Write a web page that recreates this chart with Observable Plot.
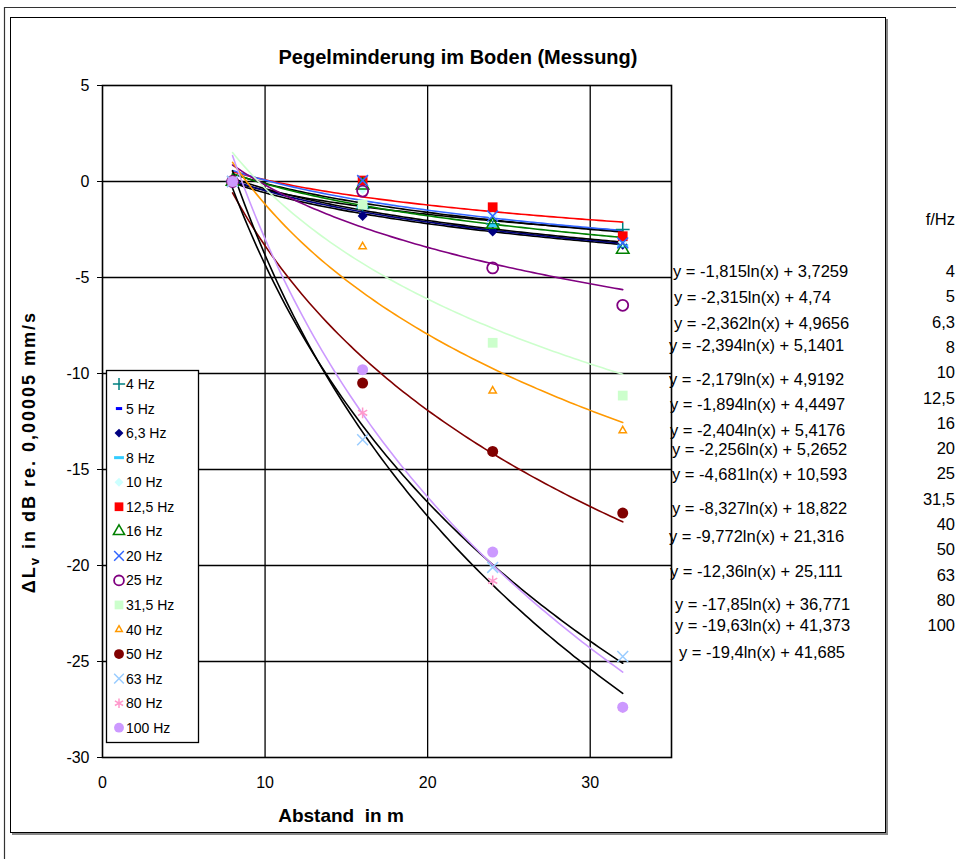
<!DOCTYPE html>
<html><head><meta charset="utf-8">
<script src="https://cdn.jsdelivr.net/npm/d3@7"></script>
<script src="https://cdn.jsdelivr.net/npm/@observablehq/plot@0.6"></script>
<style>
body{margin:0;background:#fff;}
svg{font-family:"Liberation Sans",Arial,sans-serif;}
</style>
</head><body><div id="chart"></div>
<script>
// ---------- data ----------
const freqs = ["4","5","6,3","8","10","12,5","16","20","25","31,5","40","50","63","80","100"];
const distances = [8, 16, 24, 32];
const v4Hz   = [0, -1.4, -2.2, -2.5];
const v5Hz   = [0, -1.75, -2.5, -3.25];
const v6_3Hz = [0, -1.8, -2.6, -3.3];
const v8Hz   = [0, -1.3, -2.3, -3.36];
const v10Hz  = [0, -0.4, -1.8, -3.15];
const v12_5Hz= [0, 0.05, -1.34, -2.85];
const v16Hz  = [0, -0.2, -2.25, -3.55];
const v20Hz  = [0, 0.05, -1.8, -3.2];
const v25Hz  = [0, -0.5, -4.5, -6.45];
const v31_5Hz= [0, -1.2, -8.4, -11.15];
const v40Hz  = [0, -3.39, -10.9, -12.97];
const v50Hz  = [0, -10.5, -14.06, -17.27];
const v63Hz  = [0, -13.45, -20.1, -24.74];
const v80Hz  = [0, -12.05, -20.8, -27.4];
const v100Hz = [0, -9.8, -19.3, -27.38];
const values = [v4Hz,v5Hz,v6_3Hz,v8Hz,v10Hz,v12_5Hz,v16Hz,v20Hz,v25Hz,v31_5Hz,v40Hz,v50Hz,v63Hz,v80Hz,v100Hz];
// logarithmic trend lines y = a ln(x) + b (coefficients as printed)
const slopes = [-1.815,-2.315,-2.362,-2.394,-2.179,-1.894,-2.404,-2.256,-4.681,-8.327,-9.772,-12.36,-17.85,-19.63,-19.4];
const intercepts = [3.7259,4.74,4.9656,5.1401,4.9192,4.4497,5.4176,5.2652,10.593,18.822,21.316,25.111,36.771,41.373,41.685];
const xTicks = [0, 10, 20, 30];
const yTicks = [5, 0, -5, -10, -15, -20, -25, -30];

// ---------- styles ----------
const FONT = '"Liberation Sans", Arial, sans-serif';
const dash = {draw(ctx, size){ const r = Math.sqrt(size/Math.PI); ctx.moveTo(-r,0); ctx.lineTo(r,0);} };
const markerStyle = [
  {symbol:d3.symbolPlus,     stroke:"#008080", fill:"none", r:4.5, sw:1.5},
  {symbol:dash,              stroke:"#0000FF", fill:"none", r:3.5, sw:3},
  {symbol:d3.symbolDiamond2, stroke:"none",    fill:"#000080", r:4.5, sw:1},
  {symbol:dash,              stroke:"#33CCFF", fill:"none", r:5.5, sw:3},
  {symbol:d3.symbolDiamond2, stroke:"none",    fill:"#CCFFFF", r:4.5, sw:1},
  {symbol:d3.symbolSquare,   stroke:"none",    fill:"#FF0000", r:5.5, sw:1},
  {symbol:d3.symbolTriangle2,stroke:"#008000", fill:"none", r:6, sw:1.5},
  {symbol:d3.symbolTimes,    stroke:"#3366FF", fill:"none", r:5, sw:1.5},
  {symbol:d3.symbolCircle,   stroke:"#800080", fill:"none", r:5.5, sw:1.8},
  {symbol:d3.symbolSquare,   stroke:"none",    fill:"#CCFFCC", r:5.5, sw:1},
  {symbol:d3.symbolTriangle2,stroke:"#FF9900", fill:"none", r:3.5, sw:1.5},
  {symbol:d3.symbolCircle,   stroke:"none",    fill:"#800000", r:5.5, sw:1},
  {symbol:d3.symbolTimes,    stroke:"#99CCFF", fill:"none", r:5, sw:1.5},
  {symbol:d3.symbolAsterisk, stroke:"#FF99CC", fill:"none", r:5, sw:1.5},
  {symbol:d3.symbolCircle,   stroke:"none",    fill:"#CC99FF", r:5.5, sw:1}
];
const lineColors = ["#000","#000","#000080","#000","#000","#FF0000","#008000","#3366FF","#800080","#CCFFCC","#FF9900","#800000","#000","#000","#CC99FF"];

const W = 956, H = 859;
const points = freqs.flatMap((f,i)=>distances.map((d,j)=>({f, i, x:d, y:values[i][j]})));
const xs = d3.range(8, 32.001, 0.25);
const trend = freqs.flatMap((f,i)=>xs.map(x=>({f, i, x, y: slopes[i]*Math.log(x)+intercepts[i]})));

const marks = [
  Plot.gridX(xTicks.filter(t=>t>0), {stroke:"#000", strokeOpacity:1, strokeWidth:1.3}),
  Plot.gridY(yTicks.filter(t=>t>-30 && t<5), {stroke:"#000", strokeOpacity:1, strokeWidth:1.3}),
  Plot.axisY({ticks:yTicks, tickSize:5, tickPadding:8, tickFormat:d=>String(d), fontSize:16, label:null}),
  Plot.axisX({ticks:xTicks, tickSize:0, tickPadding:19, fontSize:16, label:null}),
  Plot.frame({stroke:"#000", strokeWidth:1.6}),
  ...freqs.map((f,i)=>Plot.line(trend.filter(d=>d.i===i), {x:"x", y:"y", stroke:lineColors[i], strokeWidth:1.6})),
  ...freqs.map((f,i)=>Plot.dot(points.filter(d=>d.i===i), {x:"x", y:"y", symbol:markerStyle[i].symbol, r:markerStyle[i].r,
      fill:markerStyle[i].fill, stroke:markerStyle[i].stroke, strokeWidth:markerStyle[i].sw}))
];

const plot = Plot.plot({
  width: W, height: H,
  marginLeft: 102, marginRight: W-671, marginTop: 85, marginBottom: H-757,
  x: {domain:[0,35]},
  y: {domain:[-30,5]},
  style: {fontFamily:FONT, color:"#000", background:"#fff"},
  marks
});

const svg = d3.select(plot);
const addText = (x, y, txt, opts={}) => {
  const t = svg.append("text").attr("x",x).attr("y",y)
    .attr("text-anchor", opts.anchor || "start")
    .attr("font-size", opts.size || 16)
    .attr("font-weight", opts.weight || "normal")
    .attr("font-family", FONT)
    .attr("fill","#000")
    .style("white-space","pre");
  if (opts.ls) t.attr("letter-spacing", opts.ls);
  if (txt != null) t.text(txt);
  return t;
};
// chart frames (behind everything)
const bg = svg.insert("g", ":first-child");
bg.append("path").attr("d", `M4.5,${H} V7.5 H${W}`).attr("fill","none").attr("stroke","#333").attr("stroke-width",1.2);
bg.append("rect").attr("x",12).attr("y",19).attr("width",876).attr("height",816).attr("fill","#888");
bg.append("rect").attr("x",10.5).attr("y",17.5).attr("width",875).attr("height",815).attr("fill","#fff").attr("stroke","#000").attr("stroke-width",1);

// title
addText(458, 64, "Pegelminderung im Boden (Messung)", {anchor:"middle", size:20, weight:"bold"});
// x label
addText(341, 822, "Abstand  in m", {anchor:"middle", size:19, weight:"bold"});
// y label
const yl = addText(0, 0, null, {anchor:"middle", size:18, weight:"bold", ls:2})
  .attr("x", null).attr("y", null)
  .attr("transform","translate(35,452) rotate(-90)");
yl.append("tspan").text("\u0394L");
yl.append("tspan").attr("font-size",13).attr("dy",4).text("v");
yl.append("tspan").attr("dy",-4).text(" in dB re. 0,00005 mm/s");

// legend
const lg = svg.append("g");
lg.append("rect").attr("x",106.5).attr("y",370.5).attr("width",92).attr("height",372).attr("fill","#fff").attr("stroke","#000").attr("stroke-width",1.3);
freqs.forEach((f,i)=>{
  const y = 384 + i*24.55;
  const m = markerStyle[i];
  lg.append("path").attr("transform",`translate(119,${y})`)
    .attr("d", d3.symbol(m.symbol, Math.PI*m.r*m.r*0.8)())
    .attr("fill", m.fill).attr("stroke", m.stroke).attr("stroke-width", m.sw);
  addText(126, y+5, `${f} Hz`, {size:14});
});

// equations of the trend lines
const fmt = v => String(v).replace(".", ",");
const eqX = [673,674,674,669,669,670,670,672,672,672,669,670,675,675,679];
const eqY = [271,297,323,345,379,404,430,449,474,508,536,571,604,625,652];
freqs.forEach((f,i)=>{
  addText(eqX[i], eqY[i]+6, `y = ${fmt(slopes[i])}ln(x) + ${fmt(intercepts[i])}`, {size:16.5});
});
// frequency column
addText(955, 225, "f/Hz", {anchor:"end", size:16.5});
freqs.forEach((f,i)=>{
  addText(955, 271+i*25.3+6, f, {anchor:"end", size:16.5});
});

document.getElementById("chart").appendChild(plot);
</script>
</body></html>
